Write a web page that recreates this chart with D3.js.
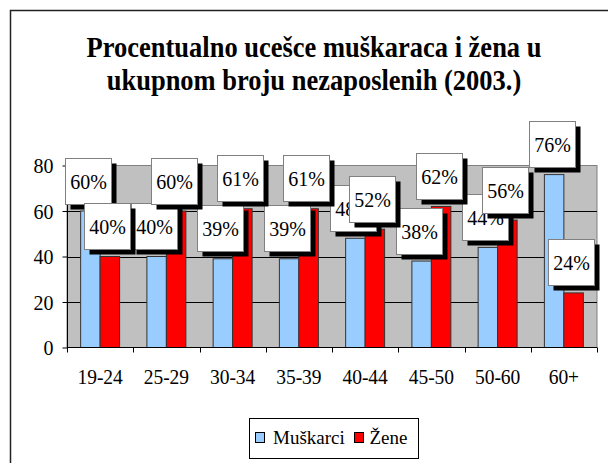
<!DOCTYPE html>
<html>
<head>
<meta charset="utf-8">
<script src="https://cdn.jsdelivr.net/npm/d3@7/dist/d3.min.js"></script>
<style>
  html, body { margin: 0; padding: 0; background: #fff; }
  svg { display: block; }
</style>
</head>
<body>
<svg id="chart" width="608" height="463"></svg>
<script>
const titleLines = ["Procentualno ucešce muškaraca i žena u", "ukupnom broju nezaposlenih (2003.)"];
const categories = ["19-24", "25-29", "30-34", "35-39", "40-44", "45-50", "50-60", "60+"];
const muskarci = [60, 40, 39, 39, 48, 38, 44, 76];
const zene = [40, 60, 61, 61, 52, 62, 56, 24];
const yTicks = [0, 20, 40, 60, 80];
const seriesNames = ["Muškarci", "Žene"];
const seriesColors = ["#99CCFF", "#FF0000"];

const FONT = "'Liberation Serif', 'Times New Roman', Times, serif";

const svg = d3.select("#chart");

// outer chart frame
svg.append("rect").attr("x", 10.5).attr("y", 10.5).attr("width", 620).attr("height", 470)
  .attr("fill", "#fff").attr("stroke", "#222").attr("stroke-width", 1.5);

// title (slightly stretched vertically like the reference)
titleLines.forEach((t, i) => {
  svg.append("text")
    .attr("transform", "translate(314," + (57 + i * 33) + ") scale(1,1.1)")
    .attr("text-anchor", "middle")
    .attr("font-family", FONT).attr("font-size", 26.5).attr("font-weight", "bold")
    .attr("fill", "#000")
    .text(t);
});

// scales
const x = d3.scaleBand().domain(categories).range([67, 597]).paddingInner(0).paddingOuter(0);
const y = d3.scaleLinear().domain([0, 80]).range([347.5, 165.5]);
const bw = x.bandwidth() / 3.4;

// plot area
svg.append("rect").attr("x", 67).attr("y", 165.5).attr("width", 530).attr("height", 182)
  .attr("fill", "#C0C0C0").attr("stroke", "#808080").attr("stroke-width", 1);

// gridlines
svg.append("g").selectAll("line").data(yTicks.filter(v => v > 0 && v < 80)).join("line")
  .attr("x1", 67).attr("x2", 597)
  .attr("y1", d => Math.round(y(d)) + 0.5).attr("y2", d => Math.round(y(d)) + 0.5)
  .attr("stroke", "#000").attr("stroke-width", 1);

// bars
const series = [muskarci, zene];
series.forEach((vals, s) => {
  svg.append("g").selectAll("rect").data(vals).join("rect")
    .attr("x", (d, i) => x(categories[i]) + x.bandwidth() / 2 - bw + s * bw)
    .attr("y", d => y(d))
    .attr("width", bw)
    .attr("height", d => y(0) - y(d))
    .attr("fill", seriesColors[s])
    .attr("stroke", "#333").attr("stroke-width", 1);
});

// y axis
const yAxis = svg.append("g").attr("transform", "translate(67.5,0)")
  .call(d3.axisLeft(y).tickValues(yTicks).tickSize(5).tickPadding(9).tickFormat(d3.format("d")))
  .attr("font-family", FONT).attr("font-size", 20);
yAxis.select(".domain").attr("stroke", "#000").attr("d", "M0," + y(80) + "V" + y(0));
yAxis.selectAll(".tick line").attr("stroke", "#000");
yAxis.selectAll("text").attr("dy", "0.33em").attr("fill", "#000").attr("transform", "scale(1,1.06)");

// x axis
const xAxis = svg.append("g").attr("transform", "translate(0," + (y(0)) + ")")
  .call(d3.axisBottom(x).tickSize(0).tickPadding(0))
  .attr("font-family", FONT).attr("font-size", 19.5);
xAxis.select(".domain").attr("stroke", "#000").attr("d", "M67,0H597");
xAxis.selectAll("text").attr("y", 36.5 / 1.06).attr("dy", "0").attr("fill", "#000")
  .attr("transform", "scale(1,1.06)");
const boundaries = categories.map(c => x(c)).concat([x.range()[1]]);
xAxis.append("g").selectAll("line").data(boundaries).join("line")
  .attr("x1", d => Math.round(d) + 0.5).attr("x2", d => Math.round(d) + 0.5)
  .attr("y1", 0).attr("y2", 5).attr("stroke", "#000");

// data labels (series 1 first, then series 2)
const boxW = 46, boxH = 46, sh = 5;
series.forEach((vals, s) => {
  const g = svg.append("g").attr("font-family", FONT).attr("font-size", 20);
  vals.forEach((v, i) => {
    const cx = x(categories[i]) + x.bandwidth() / 2 - bw + s * bw + bw / 2;
    const top = y(v);
    const bx = Math.round(cx - (boxW + sh) / 2) + 0.5;
    const by = Math.round(top - 2.5 - (boxH + sh)) + 0.5;
    g.append("rect").attr("x", bx + sh).attr("y", by + sh).attr("width", boxW).attr("height", boxH)
      .attr("fill", "#000");
    g.append("rect").attr("x", bx).attr("y", by).attr("width", boxW).attr("height", boxH)
      .attr("fill", "#fff").attr("stroke", "#808080").attr("stroke-width", 1);
    g.append("text")
      .attr("transform", "translate(" + (bx + boxW / 2) + "," + (by + 30) + ") scale(1,1.08)")
      .attr("text-anchor", "middle").attr("fill", "#000").text(v + "%");
  });
});

// legend
const lg = svg.append("g").attr("font-family", FONT).attr("font-size", 19);
lg.append("rect").attr("x", 249.5).attr("y", 418.5).attr("width", 169).attr("height", 40)
  .attr("fill", "#fff").attr("stroke", "#000").attr("stroke-width", 1);
const legendX = [255.5, 354.5];
const legendTextX = [273, 369.5];
seriesNames.forEach((n, s) => {
  lg.append("rect").attr("x", legendX[s]).attr("y", 432.5).attr("width", 9).attr("height", 10)
    .attr("fill", seriesColors[s]).attr("stroke", "#000").attr("stroke-width", 1);
  lg.append("text").attr("x", legendTextX[s]).attr("y", 443.5).attr("fill", "#000").text(n);
});
</script>
</body>
</html>
